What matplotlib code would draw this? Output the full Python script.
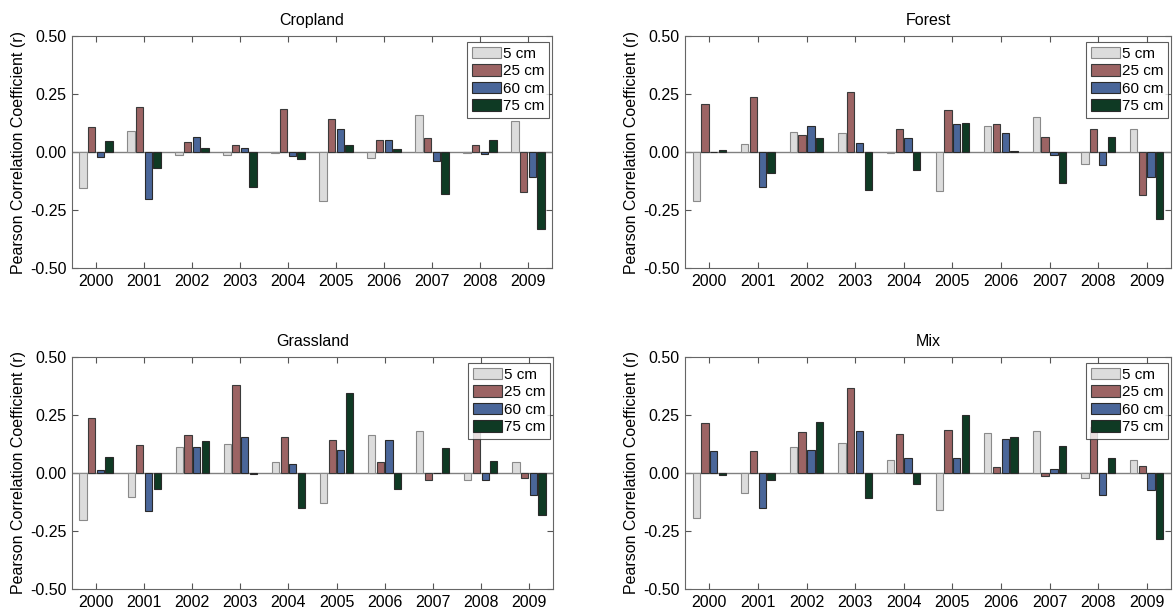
import numpy as np
import matplotlib
matplotlib.use('Agg')
import matplotlib.pyplot as plt

plt.rcParams['font.family'] = ['Liberation Sans', 'DejaVu Sans']

years = ['2000', '2001', '2002', '2003', '2004', '2005', '2006', '2007', '2008', '2009']
depths = ['5 cm', '25 cm', '60 cm', '75 cm']

cropland_5 = [-0.154, 0.089, -0.014, -0.014, -0.003, -0.210, -0.027, 0.161, -0.003, 0.134]
cropland_25 = [0.107, 0.193, 0.043, 0.030, 0.184, 0.141, 0.053, 0.060, 0.030, -0.174]
cropland_60 = [-0.021, -0.204, 0.064, 0.017, -0.017, 0.099, 0.053, -0.040, -0.009, -0.106]
cropland_75 = [0.046, -0.069, 0.017, -0.149, -0.030, 0.030, 0.014, -0.183, 0.053, -0.334]

forest_5 = [-0.213, 0.034, 0.086, 0.081, -0.006, -0.167, 0.110, 0.149, -0.051, 0.100]
forest_25 = [0.206, 0.237, 0.074, 0.260, 0.099, 0.180, 0.120, 0.064, 0.099, -0.186]
forest_60 = [0.000, -0.149, 0.113, 0.040, 0.060, 0.120, 0.084, -0.013, -0.054, -0.107]
forest_75 = [0.009, -0.089, 0.061, -0.163, -0.076, 0.126, 0.004, -0.134, 0.064, -0.287]

grass_5 = [-0.203, -0.103, 0.111, 0.124, 0.047, -0.129, 0.164, 0.179, -0.030, 0.047]
grass_25 = [0.236, 0.120, 0.164, 0.381, 0.154, 0.141, 0.047, -0.030, 0.200, -0.021]
grass_60 = [0.011, -0.164, 0.111, 0.154, 0.040, 0.101, 0.141, 0.000, -0.030, -0.094]
grass_75 = [0.067, -0.071, 0.137, -0.004, -0.151, 0.344, -0.071, 0.107, 0.050, -0.183]

mix_5 = [-0.193, -0.086, 0.111, 0.130, 0.057, -0.159, 0.174, 0.179, -0.021, 0.054]
mix_25 = [0.216, 0.096, 0.176, 0.366, 0.167, 0.187, 0.027, -0.011, 0.200, 0.030]
mix_60 = [0.096, -0.151, 0.101, 0.181, 0.066, 0.066, 0.146, 0.016, -0.094, -0.074]
mix_75 = [-0.010, -0.031, 0.220, -0.106, -0.047, 0.251, 0.154, 0.117, 0.063, -0.283]

panels = [
    ('Cropland', [cropland_5, cropland_25, cropland_60, cropland_75]),
    ('Forest', [forest_5, forest_25, forest_60, forest_75]),
    ('Grassland', [grass_5, grass_25, grass_60, grass_75]),
    ('Mix', [mix_5, mix_25, mix_60, mix_75]),
]

colors = ['#dcdcdc', '#9c6464', '#4a6699', '#0f3a24']
edges = ['#8a8a8a', '#3a3a3a', '#2a2a2a', '#2a2a2a']

fig = plt.figure(figsize=(11.75, 6.08), dpi=100)
W, H = 1175, 608
boxes = [(72, 36, 480, 232), (685, 36, 486, 232),
         (72, 357, 481, 232), (685, 357, 486, 232)]

x = np.arange(len(years))
step = 0.18
bw = 0.15
for (title, series), (l, t, w, h) in zip(panels, boxes):
    ax = fig.add_axes([l / W, 1 - (t + h) / H, w / W, h / H])
    for i, vals in enumerate(series):
        ax.bar(x + (i - 1.5) * step, vals, bw, color=colors[i],
               edgecolor=edges[i], linewidth=0.8, label=depths[i], zorder=3)
    ax.axhline(0, color='#808080', linewidth=1, zorder=2)
    ax.set_xlim(-0.5, 9.5)
    ax.set_ylim(-0.5, 0.5)
    ax.set_xticks(x)
    ax.set_xticklabels(years)
    ax.set_yticks([-0.5, -0.25, 0, 0.25, 0.5])
    ax.set_yticklabels(['-0.50', '-0.25', '0.00', '0.25', '0.50'])
    ax.tick_params(direction='in', top=True, right=True, length=4,
                   labelsize=11.5, color='#555555', pad=4)
    for s in ax.spines.values():
        s.set_color('#666666')
    ax.set_title(title, fontsize=11.5, pad=8)
    ax.set_ylabel('Pearson Correlation Coefficient (r)', fontsize=11.5, labelpad=3)
    leg = ax.legend(loc='upper right', bbox_to_anchor=(1 - 3 / w, 1 - 6 / h),
                    fontsize=11, frameon=True, fancybox=False,
                    edgecolor='#333333', handlelength=1.9, handleheight=0.8,
                    handletextpad=0.15, labelspacing=0.22, borderpad=0.3,
                    borderaxespad=0)
    leg.get_frame().set_linewidth(0.8)
    leg.set_zorder(5)

fig.savefig('out.png', dpi=100)
